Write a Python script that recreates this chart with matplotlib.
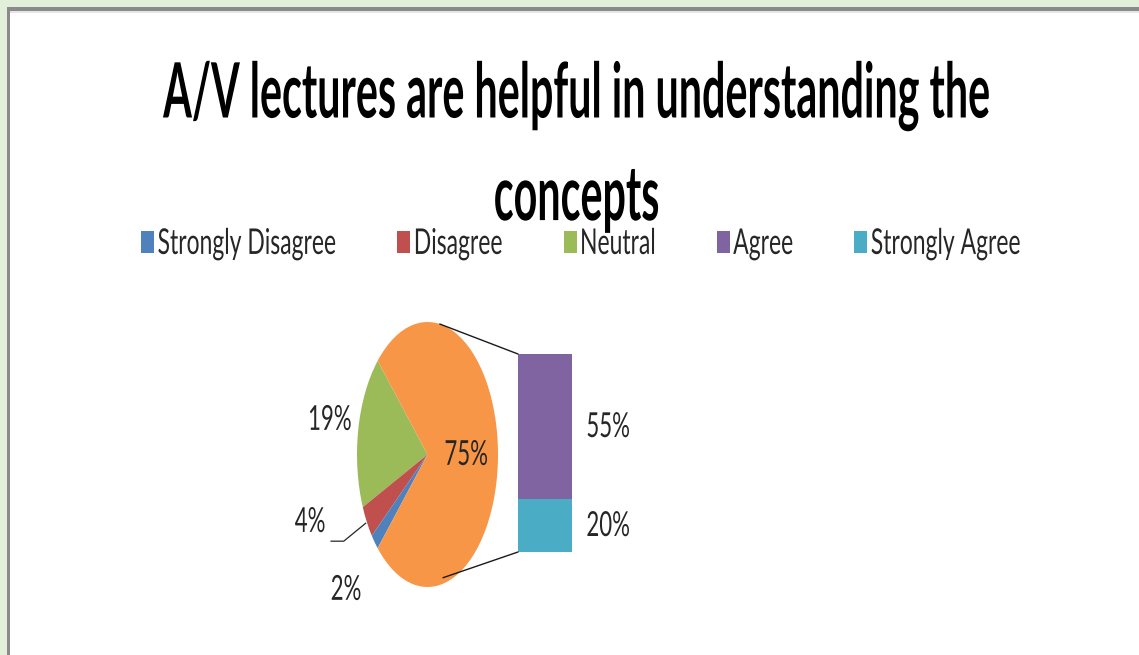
import numpy as np
import matplotlib
matplotlib.use("Agg")
from matplotlib import pyplot as plt
from matplotlib import patheffects
from matplotlib.patches import Patch, Rectangle, ConnectionPatch
from matplotlib.transforms import Affine2D

# survey answers: the three small groups go in the pie, the rest in the bar
pie_labels = ["Strongly Disagree", "Disagree", "Neutral"]
pie_values = [2, 4, 19]
bar_labels = ["Agree", "Strongly Agree"]
bar_values = [55, 20]

title = "A/V lectures are helpful in understanding the\nconcepts"
legend_order = ["Strongly Disagree", "Disagree", "Neutral", "Agree", "Strongly Agree"]

colors = {
    "Strongly Disagree": "#4f81bd",
    "Disagree": "#c0504d",
    "Neutral": "#9bbb59",
    "Agree": "#8064a2",
    "Strongly Agree": "#4bacc6",
}
OTHER_COLOR = "#f79646"
TEXT_COLOR = "#262626"
W, H = 1139, 655


class Stretch(patheffects.AbstractPathEffect):
    """Draw text taller than the font would, keeping its advance widths."""

    def __init__(self, sy, about=0.0):
        super().__init__()
        self.sy = sy
        self.about = about  # pivot height in text-path units (em = 100)

    def draw_path(self, renderer, gc, tpath, affine, rgbFace=None):
        pre = Affine2D().translate(0, -self.about).scale(1, self.sy).translate(0, self.about)
        renderer.draw_path(gc, tpath, pre + affine, rgbFace)


def px_box(x0, y0, x1, y1):
    """Pixel box (top-left origin) -> figure fraction rect."""
    return [x0 / W, 1 - y1 / H, (x1 - x0) / W, (y1 - y0) / H]


fig = plt.figure(figsize=(W / 100, H / 100), dpi=100)
fig.patch.set_facecolor("white")

# slide frame: green margin with a grey rule on top and left
fig.add_artist(Rectangle((0, 1 - 7 / H), 1, 7 / H, transform=fig.transFigure,
                         facecolor="#e2efda", edgecolor="none"))
fig.add_artist(Rectangle((0, 0), 7 / W, 1, transform=fig.transFigure,
                         facecolor="#e2efda", edgecolor="none"))
fig.add_artist(Rectangle((7 / W, 1 - 10.5 / H), 1, 3.5 / H, transform=fig.transFigure,
                         facecolor="#8a8a8a", edgecolor="none"))
fig.add_artist(Rectangle((7 / W, 0), 2.5 / W, 1 - 7 / H, transform=fig.transFigure,
                         facecolor="#8a8a8a", edgecolor="none"))
fig.add_artist(Rectangle((9.5 / W, 1 - 13 / H), 1, 2.5 / H, transform=fig.transFigure,
                         facecolor="#e6e6e6", edgecolor="none"))

fig.text(576.5 / W, 1 - 87.5 / H, title, ha="center", va="top",
         family="Lato", weight="bold", fontsize=29.7, linespacing=3.17,
         color="black", path_effects=[Stretch(1.85)])

label_fx = [Stretch(1.55, about=36)]
handles = [Patch(facecolor=colors[k], linewidth=0, label=k) for k in legend_order]
leg = fig.legend(handles=handles, loc="center", bbox_to_anchor=(581 / W, 1 - 242 / H),
                 ncol=5, frameon=False, prop=dict(family="Lato", size=16.5),
                 handlelength=0.57, handleheight=1.10, handletextpad=0.15,
                 columnspacing=2.66, borderpad=0)
for t in leg.get_texts():
    t.set_color(TEXT_COLOR)
    t.set_path_effects(label_fx)

# pie part: small slices counter-clockwise from the upper left, rest on the right
ax_pie = fig.add_axes(px_box(357, 322, 498, 587))
other = sum(bar_values)
sizes = pie_values[::-1] + [other]
wedge_colors = [colors[k] for k in pie_labels[::-1]] + [OTHER_COLOR]
wedges, _ = ax_pie.pie(sizes, colors=wedge_colors, startangle=135, counterclock=True,
                       wedgeprops=dict(linewidth=0))
ax_pie.set_aspect("auto")
ax_pie.set_xlim(-1, 1)
ax_pie.set_ylim(-1, 1)
ax_pie.axis("off")

# label radius / angle nudge for Neutral, Disagree, Strongly Disagree, other
label_r = [1.41, 1.74, 1.54, 0.55]
label_shift = [0.0, -13.7, 0.0, 0.0]
for i, (w, v) in enumerate(zip(wedges, sizes)):
    mid = np.radians((w.theta1 + w.theta2) / 2 + label_shift[i])
    ax_pie.text(label_r[i] * np.cos(mid), label_r[i] * np.sin(mid), f"{v}%",
                ha="center", va="center", family="Lato", fontsize=16,
                color=TEXT_COLOR, path_effects=label_fx, clip_on=False)
    if i == 1:
        # leader line to the thin Disagree slice
        a = np.radians((w.theta1 + w.theta2) / 2)
        end = np.array([1.02 * np.cos(a), 1.02 * np.sin(a)])
        elbow = end + np.array([-0.31, -0.135])
        start = elbow + np.array([-0.18, 0.0])
        pts = np.array([start, elbow, end])
        ax_pie.plot(pts[:, 0], pts[:, 1], color=TEXT_COLOR, lw=0.9, clip_on=False)

# bar part: breakdown of the large slice
ax_bar = fig.add_axes(px_box(518, 354, 572, 552))
bottom = 0
for k, v in zip(bar_labels[::-1], bar_values[::-1]):
    ax_bar.bar(0, v, width=1, bottom=bottom, color=colors[k], linewidth=0)
    ax_bar.text(1.17, bottom + v / 2, f"{v}%", ha="center", va="center",
                family="Lato", fontsize=16, color=TEXT_COLOR,
                path_effects=label_fx, clip_on=False)
    bottom += v
ax_bar.set_xlim(-0.5, 0.5)
ax_bar.set_ylim(0, other)
ax_bar.axis("off")

# lines joining the large slice to the bar
for (xa, ya), yb in [((np.cos(np.radians(80)), np.sin(np.radians(80))), other),
                     ((0.22, -0.93), 0)]:
    fig.add_artist(ConnectionPatch(xyA=(xa, ya), coordsA=ax_pie.transData,
                                   xyB=(-0.5, yb), coordsB=ax_bar.transData,
                                   color="#1a1a1a", lw=1.0))

fig.savefig("out.png", dpi=100)
